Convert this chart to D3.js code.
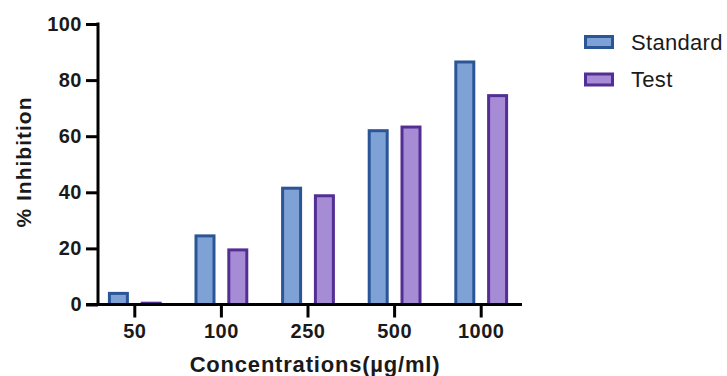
<!DOCTYPE html>
<html>
<head>
<meta charset="utf-8">
<script src="https://cdn.jsdelivr.net/npm/d3@7"></script>
<style>
  body { margin: 0; background: #fff; }
  svg { display: block; font-family: "Liberation Sans", Arial, sans-serif; }
</style>
</head>
<body>
<div id="chart"></div>
<script>
// % inhibition by concentration
const concentrations = ['50', '100', '250', '500', '1000'];
const standardValues = [4.5, 25, 42, 62.5, 87];
const testValues = [1.0, 20, 39.3, 63.8, 75];
const seriesNames = ['Standard', 'Test'];
const yTicks = [0, 20, 40, 60, 80, 100];

const width = 727, height = 376;
const svg = d3.select('#chart').append('svg')
  .attr('width', width)
  .attr('height', height);

const colors = {
  Standard: { fill: '#7ea1d6', stroke: '#2b5597' },
  Test: { fill: '#a68bd5', stroke: '#532f95' }
};
const bw = 3; // border width of bars

const x = d3.scaleBand().domain(concentrations).range([91.5, 524.5]);
const xs = d3.scaleBand().domain(seriesNames).range([0, x.bandwidth()])
  .paddingInner(0.36).paddingOuter(0.5);
const y = d3.scaleLinear().domain([0, 100]).range([304.5, 24]);

const data = concentrations.map((c, i) => ({ c, Standard: standardValues[i], Test: testValues[i] }));

// bars: outer rect in border colour, inner rect in fill colour
const groups = svg.append('g').selectAll('g')
  .data(data).enter().append('g')
  .attr('transform', d => `translate(${x(d.c)},0)`);

const bars = groups.selectAll('g')
  .data(d => seriesNames.map(s => ({ s, v: d[s] })))
  .enter().append('g');

bars.append('rect')
  .attr('x', d => xs(d.s))
  .attr('width', xs.bandwidth())
  .attr('y', d => y(d.v))
  .attr('height', d => y(0) - y(d.v))
  .attr('fill', d => colors[d.s].stroke);

bars.append('rect')
  .attr('x', d => xs(d.s) + bw)
  .attr('width', xs.bandwidth() - 2 * bw)
  .attr('y', d => y(d.v) + bw)
  .attr('height', d => Math.max(0, y(0) - y(d.v) - bw))
  .attr('fill', d => colors[d.s].fill);

// y axis
const yAxis = svg.append('g')
  .attr('transform', 'translate(98,0)')
  .call(d3.axisLeft(y).tickValues(yTicks).tickSize(12).tickPadding(4));
yAxis.select('.domain').remove();
yAxis.append('line')
  .attr('x1', 0).attr('x2', 0)
  .attr('y1', y(100) - 1.5).attr('y2', y(0) + 1.5)
  .attr('stroke', '#000').attr('stroke-width', 3);

// x axis
const xAxis = svg.append('g')
  .attr('transform', `translate(0,${y(0)})`)
  .call(d3.axisBottom(x).tickSize(13).tickPadding(6));
xAxis.select('.domain').remove();
xAxis.append('line')
  .attr('x1', 86).attr('x2', 522)
  .attr('stroke', '#000').attr('stroke-width', 3);

svg.selectAll('.tick line').attr('stroke', '#000').attr('stroke-width', 3);
svg.selectAll('.tick text')
  .attr('fill', '#1a1a1a')
  .style('font-size', '20px')
  .style('letter-spacing', '0.5px')
  .style('font-weight', 'bold');

// axis titles
svg.append('text')
  .attr('transform', 'translate(31,162) rotate(-90)')
  .attr('text-anchor', 'middle')
  .style('font-size', '21px')
  .style('letter-spacing', '1px')
  .style('font-weight', 'bold')
  .attr('fill', '#1a1a1a')
  .text('% Inhibition');

svg.append('text')
  .attr('x', 315).attr('y', 372)
  .attr('text-anchor', 'middle')
  .style('font-size', '22px')
  .style('letter-spacing', '0.8px')
  .style('font-weight', 'bold')
  .attr('fill', '#1a1a1a')
  .text('Concentrations(µg/ml)');

// legend
const legend = svg.append('g').selectAll('g')
  .data(seriesNames).enter().append('g')
  .attr('transform', (d, i) => `translate(584,${42 + i * 37.5})`);
legend.append('rect')
  .attr('x', 1.5).attr('y', -5.5)
  .attr('width', 27).attr('height', 11)
  .attr('fill', d => colors[d].fill)
  .attr('stroke', d => colors[d].stroke)
  .attr('stroke-width', 3);
legend.append('text')
  .attr('x', 47).attr('y', 7.5)
  .style('font-size', '22px')
  .style('letter-spacing', '0.3px')
  .attr('fill', '#1a1a1a')
  .text(d => d);
</script>
</body>
</html>
